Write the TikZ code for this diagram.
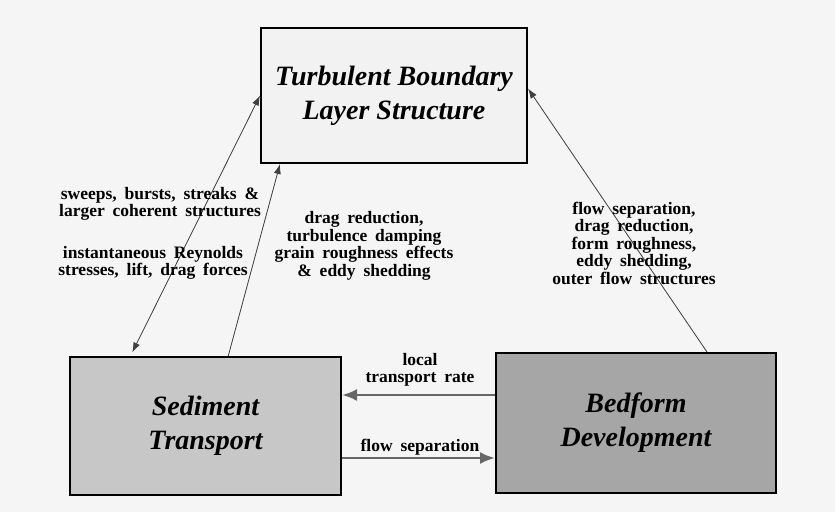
\documentclass[tikz,border=0pt]{standalone}
\usepackage{fontspec}
\setmainfont{Liberation Serif}
\usetikzlibrary{arrows.meta}
\newcommand\lblspacing{\spaceskip=0.45em plus 0.1em\relax}
\begin{document}
\begin{tikzpicture}[
  x=1pt, y=-1pt,
  >={Latex[length=10pt,width=7pt]},
  box/.style={draw, line width=2pt, align=center, font=\fontsize{28}{34}\selectfont\bfseries\itshape},
  lbl/.style={align=center, inner sep=0pt, font=\fontsize{17.5}{17.5}\selectfont\bfseries\lblspacing},
  link/.style={draw=black!75, line width=0.8pt, fill=black!45},
  flow/.style={draw=black!60, line width=2.5pt, >={Latex[length=15pt,width=12pt]}}
]
\fill[black!4] (0,0) rectangle (835,512);
\useasboundingbox (0,0) rectangle (835,512);
\node[box, fill=black!5, minimum width=266pt, minimum height=135pt] (tbl) at (394,95.5) {Turbulent Boundary\\Layer Structure};
\node[box, fill=black!22, minimum width=271pt, minimum height=138pt] (sed) at (205.5,426) {Sediment\\Transport};
\node[box, fill=black!35, minimum width=280pt, minimum height=140pt] (bed) at (636,423) {Bedform\\Development};
% links to and from the boundary layer
\draw[link, <->, shorten >=4pt] (tbl.west) -- (sed.137);
\draw[link, ->] (sed.72) -- (tbl.211);
\draw[link, ->] (bed.45) -- (tbl.3);
% links between the two lower boxes
\draw[flow, ->] ([yshift=28pt]bed.west) -- ([yshift=28pt]bed.west -| sed.east);
\draw[flow, ->] ([yshift=-35pt]bed.west -| sed.east) -- ([yshift=-35pt]bed.west);
% labels
\node[lbl] (swp) at (160,204) {sweeps, bursts, streaks \&\\larger coherent structures};
\node[lbl] (rey) at (153,263) {instantaneous Reynolds\\stresses, lift, drag forces};
\node[lbl] (drg) at (364,246) {drag reduction,\\turbulence damping\\grain roughness effects\\\& eddy shedding};
\node[lbl] (sep) at (634,243) {flow separation,\\drag reduction,\\form roughness,\\eddy shedding,\\outer flow structures};
\node[lbl] (loc) at (420,370) {local\\transport rate};
\node[lbl] (fsp) at (420,447) {flow separation};
\end{tikzpicture}
\end{document}
